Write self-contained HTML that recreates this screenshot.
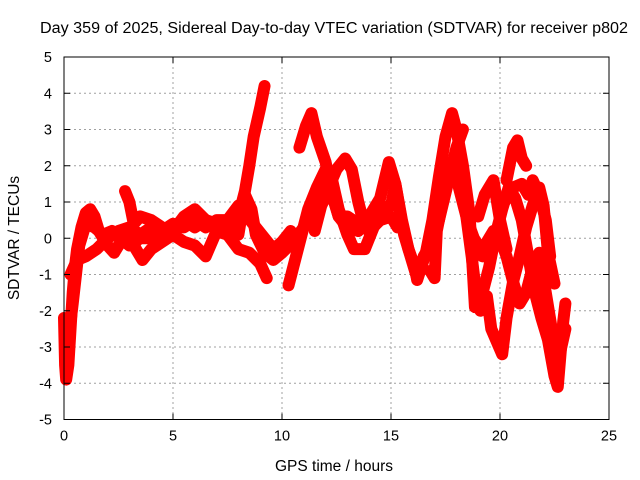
<!DOCTYPE html>
<html><head><meta charset="utf-8"><style>
body{margin:0;background:#fff;}
svg{display:block;font-family:"Liberation Sans",sans-serif;}
</style></head><body>
<svg id="chart" width="640" height="480" viewBox="0 0 640 480" xmlns="http://www.w3.org/2000/svg">
<rect width="640" height="480" fill="#fff"/>
<text x="334" y="33" font-size="15.5" text-anchor="middle" fill="#000" textLength="588" lengthAdjust="spacingAndGlyphs">Day 359 of 2025, Sidereal Day-to-day VTEC variation (SDTVAR) for receiver p802</text>
<g id="grid"></g>
<g id="marks"></g>
<g id="axes"></g>
<text x="334" y="471" font-size="15.5" text-anchor="middle">GPS time / hours</text>
<text transform="translate(19,238) rotate(-90)" font-size="15.5" text-anchor="middle">SDTVAR / TECUs</text>
</svg>
<script>
const xTicks=[0,5,10,15,20,25];
const yTicks=[-5,-4,-3,-2,-1,0,1,2,3,4,5];
const track1=[[0,-2.2],[0.05,-3.5],[0.1,-3.9],[0.2,-3.5],[0.3,-2.5],[0.4,-1.5],[0.5,-0.8],[0.6,-0.3],[0.8,0.3],[1.0,0.7],[1.2,0.8],[1.4,0.6],[1.6,0.2],[1.8,0],[2.0,-0.2],[2.3,-0.4],[2.6,-0.1],[3.0,0.1],[3.3,-0.3],[3.6,-0.6],[4,-0.3],[4.5,-0.1],[5,0.1],[5.5,0.5],[6,0.3],[6.5,0.5],[7,0.4],[7.5,0.3],[8,0.6],[8.3,1.3],[8.5,2],[8.7,2.8],[9,3.6],[9.2,4.2]];
const track2=[[0.3,-1],[0.6,-0.6],[1,-0.5],[1.5,-0.3],[2,0],[2.5,0.2],[3,0.3],[3.5,0.1],[4,0.3],[4.5,0.1],[5,0.2],[5.5,0.6],[6,0.8],[6.5,0.5],[7,0.2],[7.5,0.1],[8,-0.3],[8.5,-0.4],[9,-0.7],[9.3,-1.1]];
const track3=[[2.8,1.3],[3.0,1.0],[3.2,0.4],[3.5,0.6],[4,0.5],[4.5,0.3],[5,0.1],[5.5,-0.1],[6,-0.2],[6.5,-0.5],[7,0.2],[7.5,0.4],[8,0.1],[8.3,1.2],[8.6,0.8],[8.8,0.1],[9.2,-0.4],[9.6,-0.6],[10,-0.4],[10.5,-0.1],[11,0.3],[11.5,0.6],[12,1.2],[12.5,1.9],[12.9,2.2],[13.2,1.9],[13.5,1.0],[13.8,0.3],[14.2,0.5],[14.6,0.9]];
const track4=[[10.3,-1.3],[10.6,-0.6],[10.9,0.1],[11.2,0.8],[11.6,1.4],[12,1.9],[12.3,1.6],[12.6,0.8],[13,0.1],[13.3,-0.3],[13.8,-0.3],[14.2,0.3],[14.6,0.7],[15,0.9],[15.2,1.5],[15.6,0.1],[15.9,-0.5],[16.2,-1.1],[16.5,-0.5],[16.8,-0.2],[17.2,0.5],[17.6,1.5],[18,2.5],[18.3,3.0]];
const track5=[[10.8,2.5],[11.1,3.1],[11.35,3.45],[11.6,2.8],[12,2.1],[12.3,1.2],[12.6,0.6],[13,0.3],[13.5,0.2],[14,0.6],[14.5,1.1],[14.9,2.1],[15.2,1.5],[15.5,0.5],[15.8,-0.3],[16.1,-0.8],[16.2,-1.15],[16.6,-0.4],[16.9,0.5],[17.2,1.7],[17.5,2.8],[17.8,3.45],[18,3.0],[18.3,2.0],[18.6,0.7],[18.85,-1.9],[19.2,-1.5],[19.5,-0.8],[19.8,0.1],[20.1,0.8],[20.4,1.4],[20.7,1.1],[21,0.5],[21.3,-0.5],[21.6,-1.5],[21.9,-2.2],[22.2,-2.8],[22.5,-3.8],[22.65,-4.1],[22.9,-2.3],[23,-1.8]];
const track6=[[16.8,-0.9],[17.0,-1.1],[17.1,0.2],[17.4,1.1],[17.6,2.0],[17.9,1.9],[18.2,1.2],[18.5,0.5],[18.8,0.0],[19.1,-0.3],[19.2,-0.5],[19.4,-0.1],[19.7,0.2],[20,0],[20.3,-0.5],[20.6,-1.2],[20.9,-1.8],[21.2,-1.5],[21.5,-0.8],[21.8,-0.4],[22.1,-1.5],[22.4,-2.6],[22.7,-3.3],[23,-2.5]];
const track7=[[17.8,2.0],[18.2,1.8],[18.5,0.4],[18.7,-0.5],[18.9,-1.5],[19.1,-2],[19.4,-1.6],[19.6,-2.5],[20.1,-3.2],[20.3,-2.2],[20.6,-1.2],[20.9,-0.5],[21.2,0.3],[21.5,0.9],[21.8,1.4],[22,0.9],[22.2,-0.4],[22.5,-1.25]];
const track8=[[20.3,1.6],[20.6,2.5],[20.8,2.7],[21,2.2],[21.2,2.0]];
const track9=[[19.0,0.6],[19.3,1.2],[19.7,1.6],[20,0.5],[20.3,-0.3]];
const track10=[[20.2,1.0],[20.6,1.4],[21,1.5],[21.3,1.2],[21.5,1.6],[21.8,1.2],[22.1,0.5],[22.3,-0.5]];
const track11=[[0.2,-2.8],[0.4,-1.8],[0.7,-0.2],[1.0,0.4],[1.4,0.3],[1.8,0.1],[2.2,0.2],[2.6,0],[3.0,-0.2],[3.5,0],[4.0,0],[4.5,0.2],[5.0,0.4],[5.5,0.3],[6.0,0.5],[6.5,0.3],[7.0,0.5],[7.5,0.5],[8.0,0.9],[8.4,0.6],[8.8,0.3],[9.2,0],[9.6,-0.3],[10,-0.1],[10.4,0.2]];
const track12=[[11.5,0.2],[11.8,0.9],[12.2,1.4],[12.6,0.6],[13.0,0.6],[13.5,0.4],[14.0,0.2],[14.5,0.5],[15.0,0.6],[15.3,0.3]];
const tracks=[track1,track2,track3,track4,track5,track6,track7,track8,track9,track10,track11,track12];

const L=64,R=609,T=57,B=419.5;
const xs=v=>L+(v-0)/25*(R-L);
const ys=v=>B-(v+5)/10*(B-T);
const NS="http://www.w3.org/2000/svg";
function mk(tag,parent){const e=document.createElementNS(NS,tag);parent.appendChild(e);return e;}
const grid=document.getElementById('grid'),axes=document.getElementById('axes'),marks=document.getElementById('marks');
xTicks.forEach(t=>{
  const x=xs(t);
  if(t>0&&t<25){const g=mk('line',grid);g.setAttribute('x1',x);g.setAttribute('x2',x);g.setAttribute('y1',T);g.setAttribute('y2',B);g.setAttribute('stroke','#a0a0a0');g.setAttribute('stroke-dasharray','2,3');
  
  }
  const lb=mk('text',axes);lb.setAttribute('x',x);lb.setAttribute('y',B+21);lb.setAttribute('font-size','14.5');lb.setAttribute('text-anchor','middle');lb.textContent=t;
  
  
  [[B,B-6],[T,T+6]].forEach(p=>{const tk=mk('line',axes);tk.setAttribute('x1',x);tk.setAttribute('x2',x);tk.setAttribute('y1',p[0]);tk.setAttribute('y2',p[1]);tk.setAttribute('stroke','#000');
  
  });
});
yTicks.forEach(t=>{
  const y=ys(t);
  if(t>-5&&t<5){const g=mk('line',grid);g.setAttribute('x1',L);g.setAttribute('x2',R);g.setAttribute('y1',y);g.setAttribute('y2',y);g.setAttribute('stroke','#a0a0a0');g.setAttribute('stroke-dasharray','2,3');
  
  }
  const lb=mk('text',axes);lb.setAttribute('x',L-12);lb.setAttribute('y',y+5);lb.setAttribute('font-size','14.5');lb.setAttribute('text-anchor','end');lb.textContent=t;
  
  
  [[L,L+6],[R,R-6]].forEach(p=>{const tk=mk('line',axes);tk.setAttribute('x1',p[0]);tk.setAttribute('x2',p[1]);tk.setAttribute('y1',y);tk.setAttribute('y2',y);tk.setAttribute('stroke','#000');
  
  });
});
const frame=mk('rect',axes);frame.setAttribute('x',L);frame.setAttribute('y',T);frame.setAttribute('width',R-L);frame.setAttribute('height',B-T);frame.setAttribute('fill','none');frame.setAttribute('stroke','#000');


tracks.forEach((tr,i)=>{
  const pl=mk('polyline',marks);
  pl.setAttribute('points',tr.map(p=>xs(p[0])+','+ys(p[1])).join(' '));
  pl.setAttribute('fill','none');pl.setAttribute('stroke','#ff0000');pl.setAttribute('stroke-width','12');pl.setAttribute('stroke-linejoin','round');pl.setAttribute('stroke-linecap','round');
  
  
  tr.forEach(p=>{
    const m=mk('path',marks);const x=xs(p[0]),y=ys(p[1]);
    m.setAttribute('d',`M${x-5},${y}H${x+5}M${x},${y-5}V${y+5}`);m.setAttribute('stroke','#ff0000');m.setAttribute('stroke-width','1.5');
    
    
  });
});
</script>
</body></html>
